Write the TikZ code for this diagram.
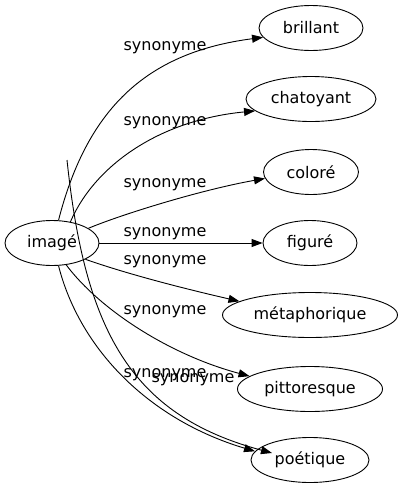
\documentclass[tikz,border=0pt]{standalone}
\usepackage{fontspec}
\setmainfont{DejaVu Sans}
\usetikzlibrary{shapes.geometric,arrows.meta}
\begin{document}
\begin{tikzpicture}[x=1pt,y=-1pt,
  every node/.style={font=\fontsize{16}{19}\selectfont},
  word/.style={draw, ellipse, inner sep=0pt, minimum height=45pt, line width=0.9pt},
  lbl/.style={inner sep=0pt},
  rel/.style={draw, line width=0.9pt, -{Triangle[length=11pt,width=8pt]}}]
\useasboundingbox (0,0) rectangle (402,491);
\node[word, minimum width=94pt]  (img) at (52,243) {imagé};
\node[word, minimum width=104pt] (bri) at (311,28) {brillant};
\node[word, minimum width=130pt] (cha) at (311,99) {chatoyant};
\node[word, minimum width=95pt]  (col) at (311,172) {coloré};
\node[word, minimum width=94pt]  (fig) at (310,243) {figuré};
\node[word, minimum width=175pt] (met) at (310,315) {métaphorique};
\node[word, minimum width=145pt] (pit) at (310,389) {pittoresque};
\node[word, minimum width=118pt] (poe) at (310,460) {poétique};
\coordinate (free) at (67,160);
\coordinate (freeend) at (272,453);
\path[rel] (img.74) .. controls (88,105) and (150,52) .. (bri.191);
\path[rel] (img.49) .. controls (95,165) and (160,120) .. (cha.192);
\path[rel] (img.22.6) .. controls (120,215) and (200,190) .. (col.188.6);
\path[rel] (img) -- (fig);
\path[rel] (img.-26.6) .. controls (130,275) and (190,290) .. (met.169.5);
\path[rel] (img.-57) .. controls (100,310) and (170,355) .. (pit.168.7);
\path[rel] (img.-74) .. controls (80,350) and (150,420) .. (poe.171);
\path[rel] (free) .. controls (85,330) and (130,415) .. (freeend);
\node[lbl] (l1) at (165,48) {synonyme};
\node[lbl] (l2) at (165,123) {synonyme};
\node[lbl] (l3) at (165,185) {synonyme};
\node[lbl] (l4) at (165,234) {synonyme};
\node[lbl] (l5) at (165,262) {synonyme};
\node[lbl] (l6) at (165,312) {synonyme};
\node[lbl] (l7) at (165,375) {synonyme};
\node[lbl] (l8) at (193,380) {synonyme};
\end{tikzpicture}
\end{document}
